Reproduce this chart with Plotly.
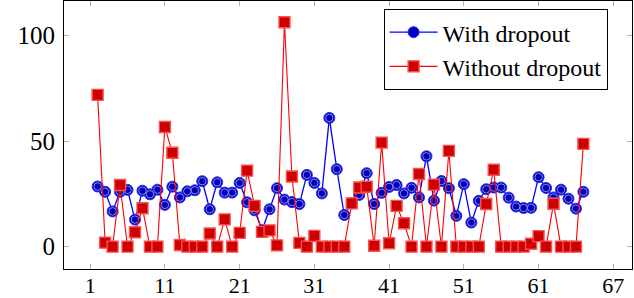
import plotly.graph_objects as go

x_index = list(range(2, 68))

with_dropout = [28.5, 26, 16.7, 26, 26.9, 12.8, 26.5, 24.8, 27, 19.8,
                28.4, 23.3, 26.2, 26.7, 31, 17.7, 30.5, 25.6, 25.6, 30.2,
                21, 17.2, 7.8, 17.7, 27.7, 22.3, 21.1, 20.2, 34, 30.2,
                25.2, 61, 36.7, 15, 20.5, 24.5, 34.8, 20.2, 25.5, 28.3,
                29.2, 25.2, 27.9, 23.3, 42.8, 21.8, 31.1, 27.7, 14.6, 29.6,
                11.4, 21.7, 27.2, 28, 28, 23.2, 19, 18.3, 18.4, 32.9,
                27.8, 23.3, 27, 22.7, 18, 26]

without_dropout = [71.9, 1.9, 0, 29.2, 0, 6.8, 18.2, 0, 0, 56.7,
                   44.5, 0.8, 0, 0, 0, 6.2, 0, 12.9, 0, 6.5,
                   36, 19.3, 7, 7.7, 0.6, 106.3, 33.2, 1.8, 0, 5.1,
                   0, 0, 0, 0, 20.5, 28, 28.4, 0.4, 49.3, 1.6,
                   19.3, 11.1, 0, 34.4, 0, 29.4, 0, 45.4, 0, 0,
                   0, 0, 20.2, 36.4, 0, 0, 0, 0, 1.4, 5,
                   0, 20.3, 0, 0, 0, 48.7]

x_tick_vals = [1, 11, 21, 31, 41, 51, 61, 71]
x_tick_text = ["1", "11", "21", "31", "41", "51", "61", "67"]
y_tick_vals = [0, 50, 100]

FONT = "Liberation Serif"

fig = go.Figure()

fig.add_trace(go.Scatter(
    x=x_index, y=with_dropout, mode="lines+markers", name="With dropout",
    line=dict(color="#0000ff", width=1.3),
    marker=dict(symbol="circle", size=11, color="#0000c0",
                line=dict(color="#2a2aff", width=1)),
))
fig.add_trace(go.Scatter(
    x=x_index, y=with_dropout, mode="markers", showlegend=False, hoverinfo="skip",
    marker=dict(symbol="circle", size=7.5, color="#0000b4",
                line=dict(color="rgba(255,255,255,0.75)", width=0.7)),
))
fig.add_trace(go.Scatter(
    x=x_index, y=without_dropout, mode="lines+markers", name="Without dropout",
    line=dict(color="#ff0000", width=1.1),
    marker=dict(symbol="square", size=11, color="#cc0000",
                line=dict(color="#ff5050", width=1.4)),
))

fig.update_layout(
    width=634, height=298,
    margin=dict(l=64, r=2, t=1, b=29, autoexpand=False),
    paper_bgcolor="white", plot_bgcolor="white",
    font=dict(family=FONT, size=24, color="black"),
    legend=dict(
        x=0.957, y=0.97, xanchor="right", yanchor="top",
        bgcolor="white", bordercolor="black", borderwidth=1,
        font=dict(family=FONT, size=24, color="black"),
        itemwidth=48, tracegroupgap=0,
    ),
    xaxis=dict(
        range=[-2.5, 73.5], tickvals=x_tick_vals, ticktext=x_tick_text,
        showgrid=False, zeroline=False, automargin=False,
        showline=True, linecolor="black", linewidth=1, mirror="allticks",
        ticks="inside", ticklen=5, tickcolor="#b0b0b0", tickwidth=1,
        tickfont=dict(family=FONT, size=22, color="black"),
        ticklabelstandoff=-3,
    ),
    yaxis=dict(
        range=[-10.6, 116.4], tickvals=y_tick_vals,
        showgrid=False, zeroline=False, automargin=False,
        showline=True, linecolor="black", linewidth=1, mirror="allticks",
        ticks="inside", ticklen=5, tickcolor="#b0b0b0", tickwidth=1,
        tickfont=dict(family=FONT, size=25, color="black"),
        ticklabelstandoff=3,
    ),
)

fig.write_html(
    "out.html",
    config={"displayModeBar": False},
    post_script="document.body.style.margin='0';document.body.style.overflow='hidden';",
)
